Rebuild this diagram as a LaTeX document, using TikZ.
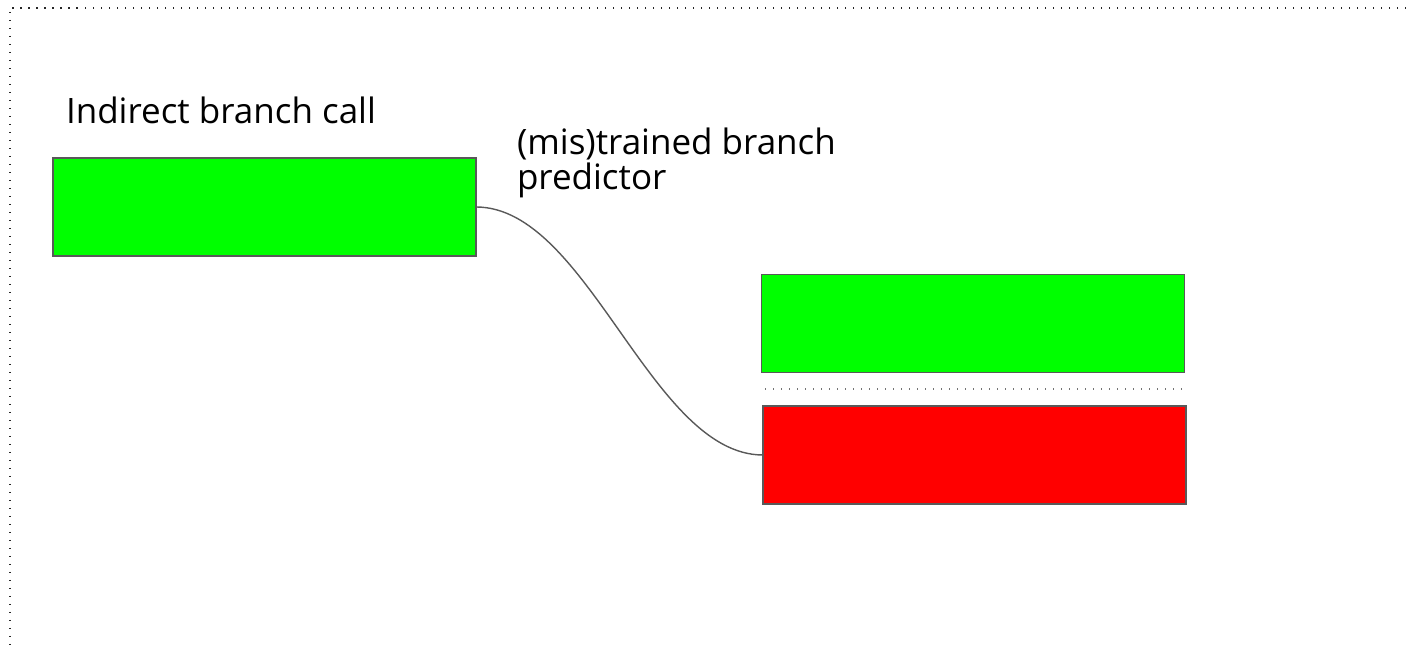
\documentclass[tikz,border=0pt]{standalone}
\usepackage{fontspec}
\setmainfont{Open Sans}
\definecolor{boxline}{HTML}{595959}
\definecolor{brightgreen}{HTML}{00FF00}
\definecolor{brightred}{HTML}{FF0000}
\tikzset{
  blockbox/.style={draw=boxline, line width=1.6pt, minimum width=423pt, minimum height=98pt, inner sep=0pt, outer sep=0pt},
  greenbox/.style={blockbox, fill=brightgreen},
  redbox/.style={blockbox, fill=brightred},
  label/.style={inner sep=0pt, outer sep=0pt, anchor=base west, align=left, font=\fontsize{35}{35}\selectfont, text=black},
  frameline/.style={line width=1.5pt, dash pattern=on 1.5pt off 6.5pt, color=black!85},
  sepline/.style={line width=1.3pt, dash pattern=on 1.3pt off 6.7pt, color=black!55},
  connector/.style={draw=boxline, line width=1.4pt}
}
\begin{document}
\begin{tikzpicture}[x=1pt,y=1pt]
\useasboundingbox (0,0) rectangle (1406,652);
% frame (top and left dotted lines)
\coordinate (ftl) at (10,644);
\coordinate (ftr) at (1406,644);
\coordinate (fbl) at (10,0);
\draw[frameline] (ftr) -- (ftl) -- (fbl);
% boxes
\node[greenbox] (call) at (264.5,445) {};
\node[greenbox] (target) at (973,328.5) {};
\node[redbox] (spec) at (974.5,197) {};
% separator
\coordinate (sepl) at (765,263);
\coordinate (sepr) at (1182,263);
\draw[sepline] (sepl) -- (sepr);
% labels
\node[label] (calllabel) at (66,528) {Indirect branch call};
\node[label] (predlabel) at (517,462) {(mis)trained branch\\predictor};
% connector
\draw[connector] (call.east) .. controls +(112,0) and +(-112,0) .. (spec.west);
\end{tikzpicture}
\end{document}
